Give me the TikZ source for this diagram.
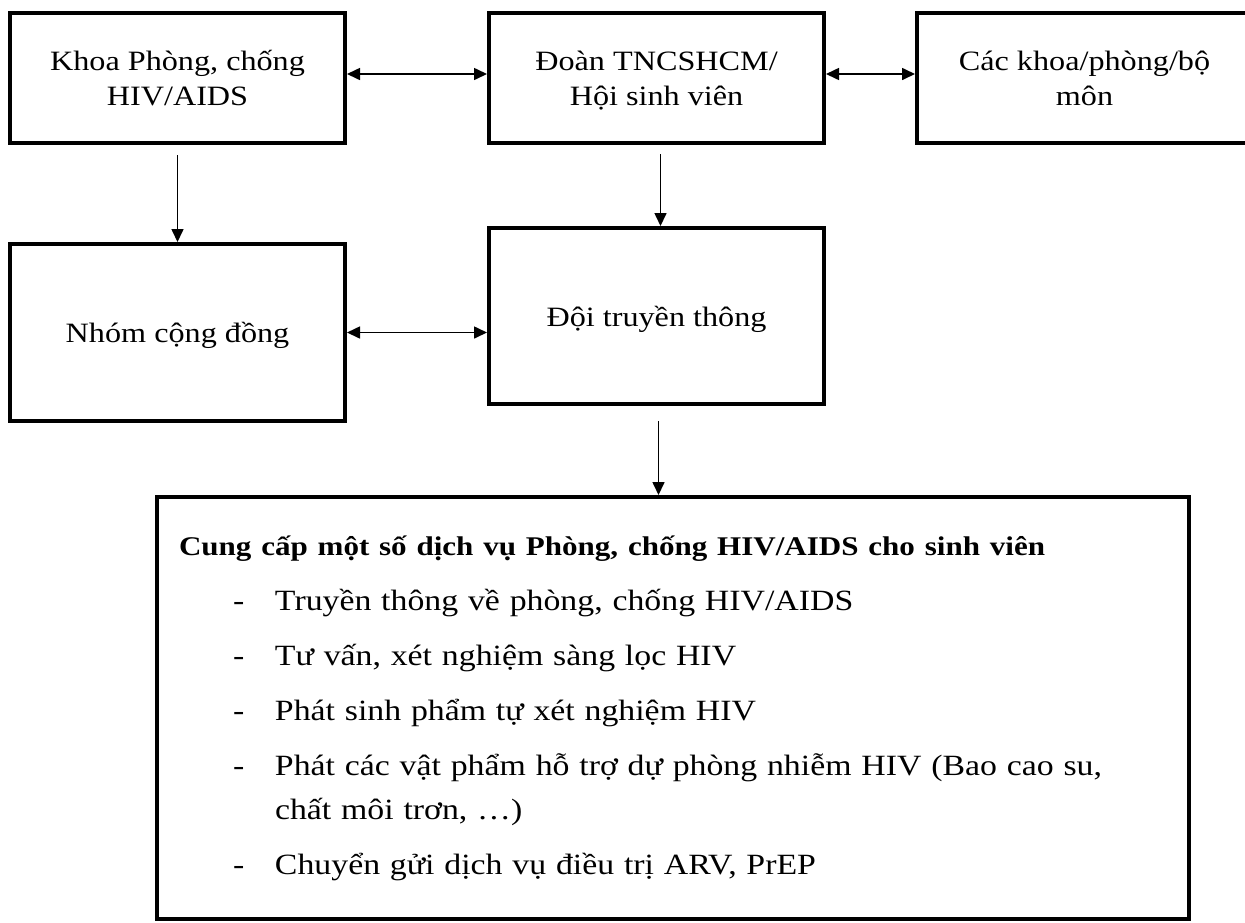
\documentclass[tikz,border=0pt]{standalone}
\usepackage{fontspec}
\setmainfont[FakeStretch=1.15]{Liberation Serif}
\usetikzlibrary{positioning,arrows.meta}
\newcommand{\svitem}[1]{\hspace*{27pt}\makebox[21pt][l]{-}#1}

\begin{document}
\begin{tikzpicture}[x=0.5pt,y=-0.5pt,>={Triangle[length=6.5pt,width=6pt]},
    every node/.style={font=\fontsize{14}{17.5}\selectfont},
    khung/.style={draw,line width=2pt,align=center,minimum width=167.5pt,minimum height=65pt,inner sep=0pt,text depth=0pt},
    muiten/.style={line width=0.8pt}]
    \clip (0,0) rectangle (1245,922);
    \node[khung] (khoa) at (177.5,78) {Khoa Phòng, chống\\HIV/AIDS};
    \node[khung] (doan) at (656.5,78) {Đoàn TNCSHCM/\\Hội sinh viên};
    \node[khung] (cackhoa) at (1084.5,78) {Các khoa/phòng/bộ\\môn};
    \node[khung,minimum height=88.5pt] (nhom) at (177.5,332.5) {Nhóm cộng đồng};
    \node[khung,minimum height=88pt] (doi) at (656.5,316) {Đội truyền thông};
    \node[draw,line width=2pt,align=left,text width=494pt,inner xsep=11pt,minimum height=211pt,
      font=\fontsize{14.7}{22}\selectfont] (dichvu) at (673,708) {%
      {\fontsize{13.5}{22}\selectfont\bfseries Cung cấp một số dịch vụ Phòng, chống HIV/AIDS cho sinh viên}\\[5.5pt]
      \svitem{Truyền thông về phòng, chống HIV/AIDS}\\[5.5pt]
      \svitem{Tư vấn, xét nghiệm sàng lọc HIV}\\[5.5pt]
      \svitem{Phát sinh phẩm tự xét nghiệm HIV}\\[5.5pt]
      \svitem{Phát các vật phẩm hỗ trợ dự phòng nhiễm HIV (Bao cao su,}\\
      \hspace*{48pt}chất môi trơn, …)\\[5.5pt]
      \svitem{Chuyển gửi dịch vụ điều trị ARV, PrEP}};
    \draw[muiten,<->] ([yshift=2pt]khoa.east) -- ([yshift=2pt]doan.west);
    \draw[muiten,<->] ([yshift=2pt]doan.east) -- ([yshift=2pt]cackhoa.west);
    \draw[muiten,->] ([yshift=-5pt]khoa.south) -- (nhom.north);
    \draw[muiten,->] ([xshift=2pt,yshift=-4.5pt]doan.south) -- ([xshift=2pt]doi.north);
    \draw[muiten,<->] (nhom.east) -- (nhom.east -| doi.west);
    \draw[muiten,->] ([xshift=1pt,yshift=-7.5pt]doi.south) -- ([xshift=1pt]doi.south |- dichvu.north);
  \end{tikzpicture}
\end{document}
